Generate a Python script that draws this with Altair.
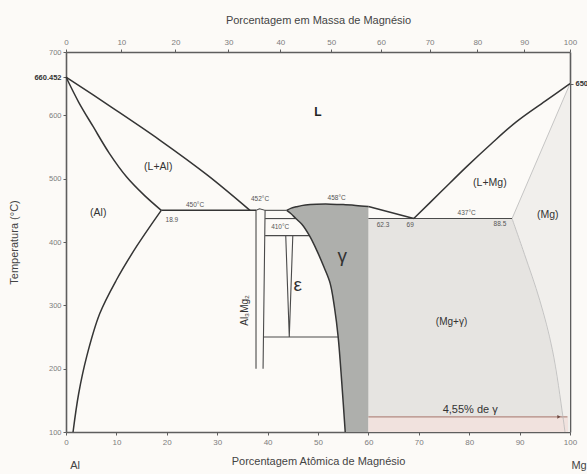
import altair as alt
import pandas as pd

# ---------------------------------------------------------------- axis ticks
at_ticks = [0, 10, 20, 30, 40, 50, 60, 70, 80, 90, 100]   # atomic % Mg (bottom)
wt_ticks = [0, 10, 20, 30, 40, 50, 60, 70, 80, 90, 100]   # mass % Mg (top)
t_ticks = [100, 200, 300, 400, 500, 600, 700]             # temperature, °C
AL_MELT = 660.452
MG_MELT = 650
M_MG, M_AL = 24.305, 26.982

# ------------------------------------------- phase boundaries (at.% Mg, °C)
liq_al_x = [0, 9, 18.6, 28, 36.5]
liq_al_t = [AL_MELT, 613, 561, 506, 450]
sol_al_x = [0, 2.5, 5.4, 8.6, 12, 15.5, 18.9]
sol_al_t = [AL_MELT, 621, 582, 540, 503, 474, 450]
solv_al_x = [18.9, 14, 10, 6.7, 4.1, 2.5, 1.4]
solv_al_t = [450, 393, 340, 287, 219, 160, 100]
eut_al_x = [18.9, 37.7]
eut_al_t = [450, 450]

beta_x = [37.7, 37.7, 38.4, 39.5, 39.1]
beta_t = [200, 450, 452.5, 450, 200]

eps_x = [43.6, 44.3, 45.0]
eps_t = [410, 250, 410]

# horizontal invariants between beta and gamma
bg_x1 = [39.5, 39.5, 39.5, 39.1]
bg_x2 = [43.8, 45.6, 48.3, 54.0]
bg_t = [450, 437, 410, 250]

gam_left_x = [43.8, 44.6, 45.6, 46.8, 48.3, 49.8, 51.2, 52.4, 53.3, 54.0, 54.7, 55.4]
gam_left_t = [450, 445, 437, 428, 410, 386, 360, 335, 295, 250, 180, 100]
gam_top_x = [43.8, 44.7, 45.8, 47.5, 49.7, 52.5, 55.0, 57.5, 60.0]
gam_top_t = [450, 453.5, 455.8, 458.3, 459.6, 459.8, 459.2, 457.8, 456]
gam_right_x = 60.0

liq_gm_x = [60, 69]
liq_gm_t = [456, 437]
eut_mg_x = [60, 88.5]
eut_mg_t = [437, 437]

liq_mg_x = [69, 74.5, 79.5, 84.5, 89.4, 95, 100]
liq_mg_t = [437, 480, 519, 556, 590, 622, MG_MELT]
sol_mg_x = [88.5, 100]
sol_mg_t = [437, MG_MELT]
solv_mg_x = [88.5, 91, 94, 96.5, 98.6, 99.0]
solv_mg_t = [437, 380, 308, 230, 124, 100]

# lever-rule marker at room temperature
lever_x = [60, 99.5]
lever_t = 124
band_x = [60, 99.6]
band_t = [100, 123]

# ----------------------------------------------------------------- labels
lab_text = ["(L+Al)", "(Al)", "(L+Mg)", "(Mg)", "(Mg+γ)", "4,55% de γ",
            "γ", "ε"]
lab_x = [18.3, 6.4, 84.1, 95.6, 76.5, 80.2, 54.8, 46.0]
lab_t = [518, 446, 493, 443, 273, 135, 378, 332]
lab_size = [10.5, 10.5, 10.5, 10.5, 10, 11, 19, 19]

small_text = ["450°C", "18.9", "452°C", "458°C", "410°C", "62.3", "69",
              "437°C", "88.5"]
small_x = [25.6, 21.0, 38.5, 53.7, 42.5, 62.9, 68.3, 79.5, 86.1]
small_t = [458, 435, 468, 469, 423, 427, 427, 446, 428]


def path(name, xs, ts):
    return pd.DataFrame({"seg": name, "i": range(len(xs)), "x": xs, "t": ts})


# ------------------------------------------------------------- fill regions
gam_poly = path(
    "gamma",
    gam_top_x + [gam_right_x, gam_left_x[-1]] + gam_left_x[::-1],
    gam_top_t + [100, 100] + gam_left_t[::-1],
)
mgg_poly = path(
    "mg_gamma",
    [60] + solv_mg_x + [60],
    [437] + solv_mg_t + [100],
)
mg_poly = path(
    "mg",
    [100] + solv_mg_x + [100],
    [MG_MELT] + solv_mg_t + [100],
)

curves = pd.concat([
    path("liq_al", liq_al_x, liq_al_t),
    path("sol_al", sol_al_x, sol_al_t),
    path("solv_al", solv_al_x, solv_al_t),
    path("liq_mg", liq_mg_x, liq_mg_t),
    path("gam_left", gam_left_x, gam_left_t),
    path("gam_top", gam_top_x, gam_top_t),
])
straight = pd.concat([
    path("eut_al", eut_al_x, eut_al_t),
    path("liq_gm", liq_gm_x, liq_gm_t),
])
mid_lines = pd.concat(
    [path("beta", beta_x, beta_t), path("eps", eps_x, eps_t),
     path("eut_mg", eut_mg_x, eut_mg_t)]
    + [path(f"bg{k}", [a, b], [t, t]) for k, (a, b, t) in enumerate(zip(bg_x1, bg_x2, bg_t))]
)
faint_lines = pd.concat([
    path("sol_mg", sol_mg_x, sol_mg_t),
    path("solv_mg", solv_mg_x, solv_mg_t),
])

W, H = 504, 380
xs = alt.Scale(domain=[0, 100], nice=False, zero=False)
ys = alt.Scale(domain=[100, 700], nice=False, zero=False)
FONT = "Liberation Sans"
TICK_C = "#7d7d7d"
AX_C = "#5e5e5e"

x_bottom = alt.X("x:Q", scale=xs, axis=alt.Axis(
    orient="bottom", values=at_ticks, title="Porcentagem Atômica de Magnésio",
    labelFontSize=8, labelColor=TICK_C, labelPadding=3, tickSize=3,
    tickColor=AX_C, domainColor=AX_C, domainWidth=1.6, grid=False,
    titleFontSize=11, titleColor="#444", titleFontWeight="normal",
    titlePadding=9, labelFlush=False))
y_left = alt.Y("t:Q", scale=ys, axis=alt.Axis(
    orient="left", values=t_ticks + [AL_MELT], title="Temperatura (°C)",
    labelExpr="'' + datum.value",
    labelFontSize=7.5, labelColor={"condition": {"test": "datum.value == 660.452", "value": "#333"}, "value": TICK_C},
    labelFontWeight={"condition": {"test": "datum.value == 660.452", "value": "bold"}, "value": "normal"},
    labelPadding=2, tickSize=3, tickColor=AX_C, domainColor=AX_C,
    domainWidth=1.6, grid=False, titleFontSize=11, titleColor="#444",
    titleFontWeight="normal", titlePadding=14, labelFlush=False))

top_vals = [w / M_MG / (w / M_MG + (100 - w) / M_AL) * 100 for w in wt_ticks]
x_top = alt.X("x:Q", scale=xs, axis=alt.Axis(
    orient="top", values=top_vals, title="Porcentagem em Massa de Magnésio",
    labelExpr=f"round(100*datum.value*{M_MG}/(datum.value*{M_MG}+(100-datum.value)*{M_AL}))",
    labelFontSize=8, labelColor=TICK_C, labelPadding=3, tickSize=3,
    tickColor=AX_C, domainColor=AX_C, domainWidth=1.6, grid=False,
    titleFontSize=11, titleColor="#444", titleFontWeight="normal",
    titlePadding=13, labelFlush=False))
y_right = alt.Y("t:Q", scale=ys, axis=alt.Axis(
    orient="right", values=[MG_MELT], labelExpr="'' + datum.value", title=None,
    labelFontSize=7.5, labelColor="#333", labelFontWeight="bold",
    labelPadding=2, tickSize=3, tickColor=AX_C, domainColor=AX_C,
    domainWidth=1.6, grid=False))

x_n = alt.X("x:Q", scale=xs, axis=None)
y_n = alt.Y("t:Q", scale=ys, axis=None)

fill_mg = alt.Chart(mg_poly).mark_line(fill="#f1efec", strokeWidth=0).encode(
    x=x_bottom, y=y_left, order="i:Q")
fill_mgg = alt.Chart(mgg_poly).mark_line(fill="#e6e4e1", strokeWidth=0).encode(
    x=x_n, y=y_n, order="i:Q")
fill_gam = alt.Chart(gam_poly).mark_line(fill="#aeafac", strokeWidth=0).encode(
    x=x_n, y=y_n, order="i:Q")

band = alt.Chart(pd.DataFrame({"x": [band_x[0]], "x2": [band_x[1]],
                               "t": [band_t[0]], "t2": [band_t[1]]})).mark_rect(
    color="#f1e2de").encode(x=x_n, x2="x2:Q", y=y_n, y2="t2:Q")
lever = alt.Chart(pd.DataFrame({"x": [lever_x[0]], "x2": [lever_x[1]], "t": [lever_t]})).mark_rule(
    color="#b48a80", strokeWidth=1.2).encode(x=x_n, x2="x2:Q", y=y_n)
arrow = alt.Chart(pd.DataFrame({"x": [97.8], "t": [lever_t]})).mark_point(
    shape="triangle-right", filled=True, size=14, color="#6e4a42", opacity=1).encode(x=x_n, y=y_n)

faint = alt.Chart(faint_lines).mark_line(color="#b9b9b9", strokeWidth=0.8, interpolate="catmull-rom").encode(
    x=x_n, y=y_n, detail="seg:N", order="i:Q")
mid = alt.Chart(mid_lines).mark_line(color="#4a4a4a", strokeWidth=1.1).encode(
    x=x_n, y=y_n, detail="seg:N", order="i:Q")
dark_c = alt.Chart(curves).mark_line(color="#353535", strokeWidth=1.5, interpolate="catmull-rom").encode(
    x=x_top, y=y_right, detail="seg:N", order="i:Q")
dark_s = alt.Chart(straight).mark_line(color="#353535", strokeWidth=1.5).encode(
    x=x_n, y=y_n, detail="seg:N", order="i:Q")

labels = alt.Chart(pd.DataFrame({"x": lab_x, "t": lab_t, "text": lab_text,
                                 "size": lab_size})).mark_text(
    font=FONT, color="#333", baseline="middle", align="center").encode(
    x=x_n, y=y_n, text="text:N", size=alt.Size("size:Q", scale=None))
small = alt.Chart(pd.DataFrame({"x": small_x, "t": small_t, "text": small_text})).mark_text(
    font=FONT, color="#555", fontSize=6.5, baseline="middle", align="center").encode(
    x=x_n, y=y_n, text="text:N")
big_l = alt.Chart(pd.DataFrame({"x": [50.0], "t": [605], "text": ["L"]})).mark_text(
    font=FONT, color="#222", fontSize=12, fontWeight="bold").encode(x=x_n, y=y_n, text="text:N")
beta_lab = alt.Chart(pd.DataFrame({"x": [35.5], "t": [292], "text": ["Al₃Mg₂"]})).mark_text(
    font=FONT, color="#333", fontSize=10, angle=270).encode(x=x_n, y=y_n, text="text:N")
ends = alt.Chart(pd.DataFrame({"x": [1.8, 101.8], "t": [46, 46], "text": ["Al", "Mg"]})).mark_text(
    font=FONT, color="#444", fontSize=11).encode(x=x_n, y=y_n, text="text:N")

chart = alt.layer(
    fill_mg, fill_mgg, fill_gam, band, lever, arrow, faint, mid, dark_c, dark_s,
    labels, small, big_l, beta_lab, ends,
).resolve_axis(x="independent", y="independent").properties(
    width=W, height=H, autosize=alt.AutoSizeParams(type="none"),
    padding={"left": 66, "top": 52, "right": 17, "bottom": 42},
    background="#fcfaf7",
).configure_view(stroke=None).configure_axis(labelFont=FONT, titleFont=FONT)

chart.save("out.html", embed_options={"renderer": "svg", "actions": False})
